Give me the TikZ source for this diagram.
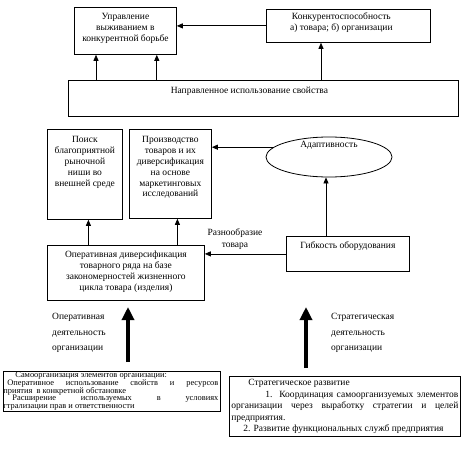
\documentclass[tikz,border=0pt]{standalone}
\usepackage{fontspec}
\setmainfont{Liberation Serif}
\usetikzlibrary{arrows.meta,calc,shapes.geometric}
\newcommand{\tbx}[4]{\parbox[c][#2][t]{#1}{\vspace*{#3}\centering\rule{0pt}{7pt}#4\par}}
\begin{document}
\begin{tikzpicture}[x=1pt,y=-1pt,
 every node/.style={font=\fontsize{9.5}{10.8}\selectfont},
 box/.style={draw, line width=0.8pt, inner sep=0pt, anchor=north west},
 arr/.style={line width=0.8pt, -{Triangle[length=6pt,width=5pt]}},
 bigarr/.style={line width=3.2pt, -{Triangle[length=13pt,width=12pt]}},
 lbl/.style={inner sep=0pt, anchor=base west}]
\useasboundingbox (0,0) rectangle (468,452);
% top row
\node[box] (upr) at (74,7) {\tbx{102pt}{47pt}{5.5pt}{Управление\\выживанием в\\конкурентной борьбе}};
\node[box] (konk) at (266,9) {\tbx{164pt}{33pt}{3.5pt}{\hspace*{-14pt}Конкурентоспособность\\\hspace*{-14pt}а) товара; б) организации}};
\node[box] (napr) at (68,80) {\tbx{390pt}{36pt}{6.5pt}{\hspace*{-28pt}Направленное использование свойства}};
% middle row
\node[box] (poisk) at (47,129) {\tbx{75pt}{90pt}{6.5pt}{Поиск\\благоприятной\\рыночной\\ниши во\\внешней среде}};
\node[box] (proizv) at (129,129) {\tbx{82pt}{89pt}{6.5pt}{Производство\\товаров и их\\диверсификация\\на основе\\маркетинговых\\исследований}};
\node[draw, ellipse, line width=0.8pt, minimum width=126pt, minimum height=40pt, inner sep=0pt] (adapt) at (329,157) {};
\node (adapttxt) at ([yshift=12pt]adapt.center) {Адаптивность};
% lower row
\node[box] (oper) at (47,245) {\tbx{157pt}{55pt}{5.5pt}{Оперативная диверсификация\\товарного ряда на базе\\закономерностей жизненного\\цикла товара (изделия)}};
\node[box] (gibk) at (286,236) {\tbx{123pt}{35pt}{5.5pt}{Гибкость оборудования}};
\node[inner sep=0pt, anchor=base] (raznoobr) at (235,235.5) {\parbox[t]{80pt}{\fontsize{9.5}{12}\selectfont\centering Разнообразие\\товара}};
% side labels
\node[lbl] (opact) at (52,319.5) {\parbox[t]{80pt}{\fontsize{9.5}{15.5}\selectfont\raggedright Оперативная\\деятельность\\организации}};
\node[lbl] (stract) at (331,319.5) {\parbox[t]{80pt}{\fontsize{9.5}{15.5}\selectfont\raggedright Стратегическая\\деятельность\\организации}};
% bottom boxes
\node[box] (selforg) at (3,371) {\parbox[c][40pt][t]{217pt}{\fontsize{8.4}{7.6}\selectfont\lineskiplimit=-100pt\raggedright\vspace*{0.5pt}\rule{0pt}{6pt}\hspace*{12pt}Самоорганизация элементов организации:\\
\hspace*{4pt}\makebox[211pt][s]{Оперативное использование свойств и ресурсов}\\
приятия\ \ в конкретной обстановке\\
\hspace*{9pt}\makebox[206pt][s]{Расширение используемых в условиях}\\
гтрализации прав и ответственности\par}};
\node[box] (strdev) at (229,376) {\parbox[c][60pt][t]{231pt}{\fontsize{9.5}{11.5}\selectfont\raggedright\vspace*{2.5pt}\rule{0pt}{7pt}\hspace*{19pt}Стратегическое развитие\\
\hspace*{36pt}\makebox[193pt][s]{1. Координация самоорганизуемых элементов}\\
\hspace*{2pt}\makebox[227pt][s]{организации через выработку стратегии и целей}\\
\hspace*{2pt}предприятия.\\
\hspace*{14pt}2. Развитие функциональных служб предприятия\par}};
% connectors
\draw[arr] (konk.west) -- (konk.west -| upr.east);
\draw[arr] ([xshift=22pt]upr.south west |- napr.north) -- ([xshift=22pt]upr.south west);
\draw[arr] ([xshift=-20pt]upr.south east |- napr.north) -- ([xshift=-20pt]upr.south east);
\draw[arr] ([xshift=55pt]konk.south west |- napr.north) -- ([xshift=55pt]konk.south west);
\draw[arr] (adapt.170) -- (adapt.170 -| proizv.east);
\draw[arr] ([xshift=-3pt]adapt.south |- gibk.north) -- ([xshift=-3pt]adapt.south);
\draw[arr] (gibk.west) -- (gibk.west -| oper.east);
\draw[arr] ([xshift=3.5pt]poisk.south |- oper.north) -- ([xshift=3.5pt]poisk.south);
\draw[arr] ([xshift=7pt]proizv.south |- oper.north) -- ([xshift=7pt]proizv.south);
% thick arrows
\coordinate (ltail) at (128,362);
\coordinate (lhead) at (128,307);
\coordinate (rtail) at (306,368);
\coordinate (rhead) at (306,307);
\draw[bigarr] (ltail) -- (lhead);
\draw[bigarr] (rtail) -- (rhead);
\end{tikzpicture}
\end{document}
